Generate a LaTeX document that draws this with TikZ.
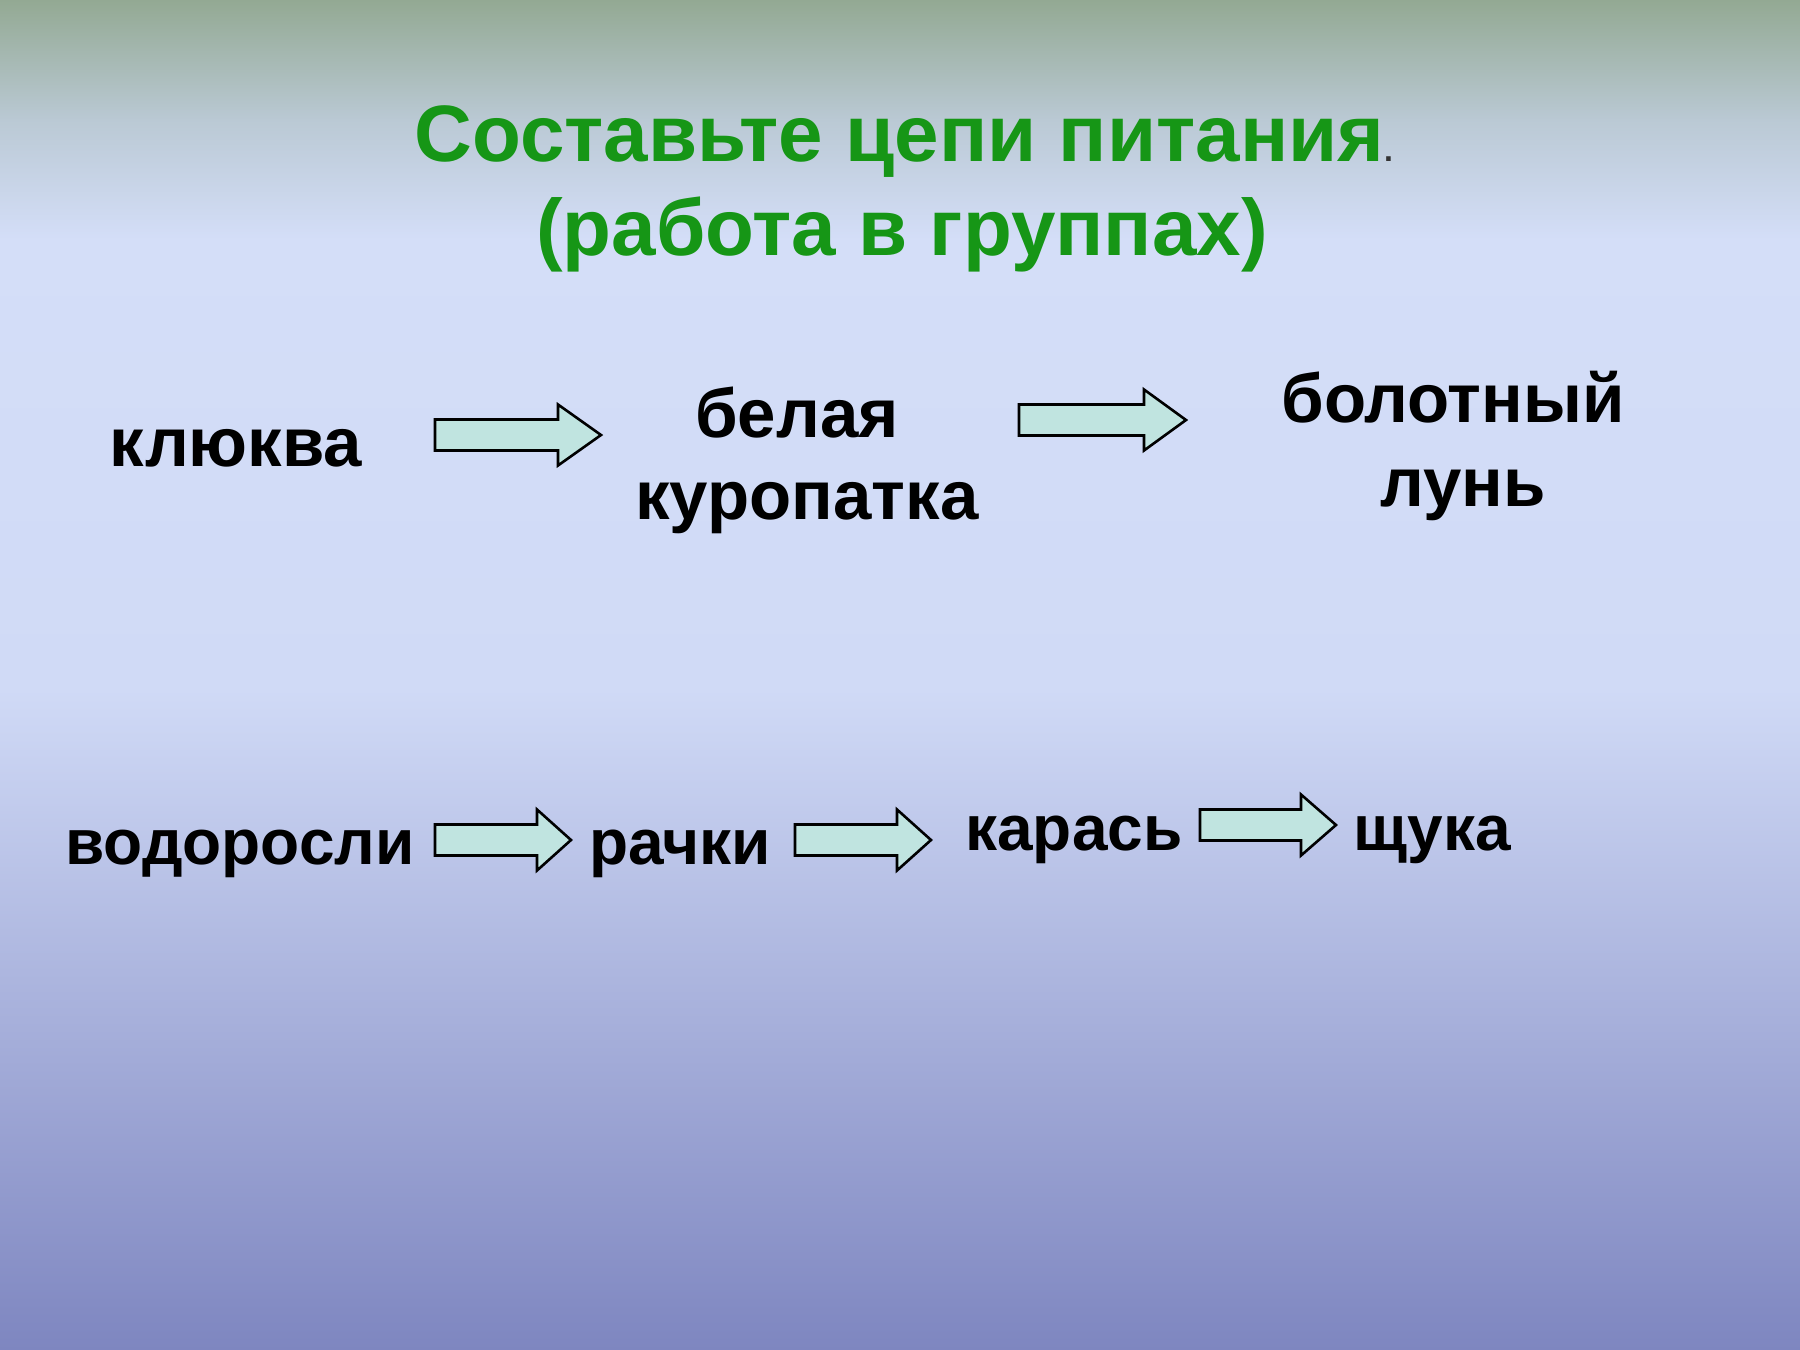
\documentclass[tikz,border=0pt]{standalone}
\usepackage{fontspec}
\setmainfont{Liberation Sans}
\definecolor{bgtop}{RGB}{147,169,147}
\definecolor{bgmid1}{RGB}{186,201,212}
\definecolor{bgmid2}{RGB}{212,222,248}
\definecolor{bgmid3}{RGB}{208,218,246}
\definecolor{bgbot}{RGB}{126,134,192}
\definecolor{titlegreen}{RGB}{22,150,22}
\definecolor{arrowfill}{RGB}{192,228,224}
\tikzset{
  word/.style={inner sep=0pt, anchor=base, font=\fontsize{34.5}{40}\selectfont\bfseries, text=black},
  wordb/.style={inner sep=0pt, anchor=base, font=\fontsize{32}{38}\selectfont\bfseries, text=black},
  titletext/.style={inner sep=0pt, font=\fontsize{40}{48}\selectfont\bfseries, text=titlegreen},
  arrowbox/.style={draw=black, fill=arrowfill, line width=1.3pt, line join=miter},
  pics/blockarrow/.style 2 args={code={
    \draw[arrowbox] (0,-15.5) -- (#1-#2,-15.5) -- (#1-#2,-30.5) -- (#1,0)
      -- (#1-#2,30.5) -- (#1-#2,15.5) -- (0,15.5) -- cycle;
  }}
}
\begin{document}
\begin{tikzpicture}[x=0.5pt,y=-0.5pt]
\useasboundingbox (0,0) rectangle (1800,1350);
% background
\fill[top color=bgtop, bottom color=bgmid1] (0,0) rectangle (1800,120);
\fill[top color=bgmid1, bottom color=bgmid2] (0,119) rectangle (1800,240);
\fill[top color=bgmid2, bottom color=bgmid3] (0,239) rectangle (1800,690);
\fill[top color=bgmid3, bottom color=bgbot] (0,689) rectangle (1800,1350);
% title
\node[titletext, anchor=base west] (t1) at (414,161) {Составьте цепи питания{\color{black!80}\fontsize{16}{18}\selectfont.}};
\node[titletext, anchor=base] (t2) at (902,255) {(работа в группах)};
% row 1
\node[word] (klukva) at (236,466) {клюква};
\node[word] (belaya) at (797,437) {белая};
\node[word] (kuropatka) at (807,519) {куропатка};
\node[word] (bolotny) at (1453,422) {болотный};
\node[word] (lun) at (1463,506) {лунь};
\pic (a1) at (435,435) {blockarrow={166}{43}};
\pic (a2) at (1019,420) {blockarrow={167}{42}};
% row 2
\node[wordb] (vodorosli) at (240,864) {водоросли};
\node[wordb] (rachki) at (680,864) {рачки};
\node[wordb] (karas) at (1074,850) {карась};
\node[wordb] (shchuka) at (1432,850) {щука};
\pic (a3) at (435,840) {blockarrow={136}{34}};
\pic (a4) at (795,840) {blockarrow={136}{34}};
\pic (a5) at (1200,825) {blockarrow={136}{35}};
\end{tikzpicture}
\end{document}
